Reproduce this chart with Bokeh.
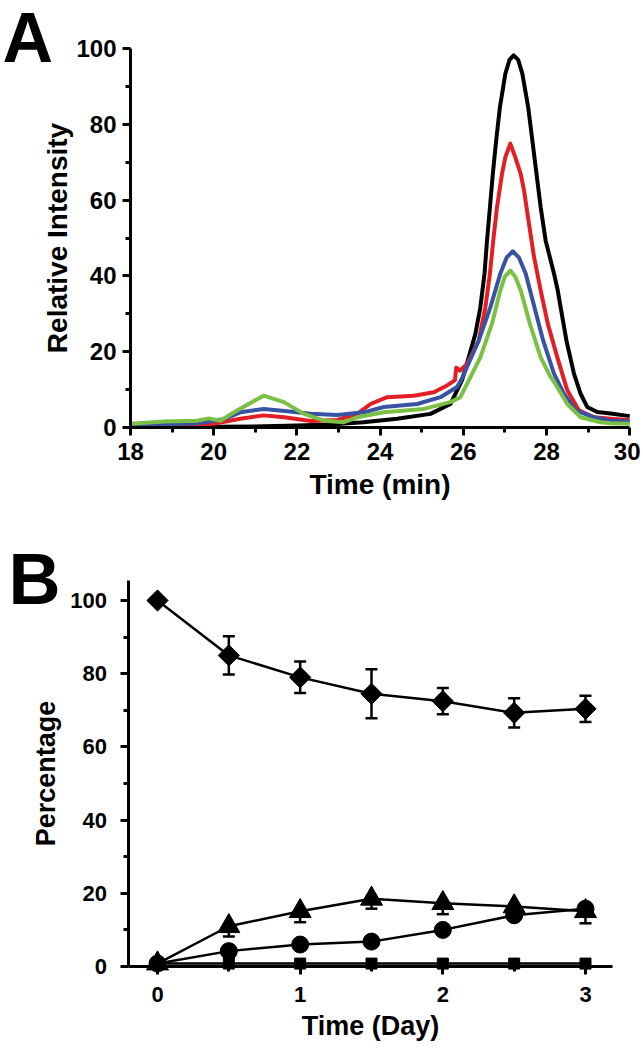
import numpy as np
from bokeh.plotting import figure
from bokeh.models import FixedTicker, Whisker, ColumnDataSource, Label, Range1d, TeeHead
from bokeh.layouts import column
from bokeh.embed import file_html
from bokeh.resources import INLINE

# ---------------- Panel A data ----------------
black_x = [18, 19, 20, 21.2, 22.0, 22.8, 23.6, 24.41, 25.21, 25.69, 25.97, 26.13, 26.29, 26.41, 26.51,
           26.57, 26.64, 26.71, 26.79, 26.88, 27.01, 27.11, 27.21, 27.32, 27.42, 27.56, 27.66, 27.76,
           27.86, 27.98, 28.18, 28.27, 28.34, 28.48, 28.66, 28.82, 28.98, 29.22, 29.54, 30]
black_y = [0.2, 0.2, 0.2, 0.3, 0.5, 0.8, 1.4, 2.3, 3.6, 6.2, 12.5, 18.5, 24.7, 31.7, 40.6,
           49.3, 58.1, 66.9, 75.7, 84.5, 93.3, 97.0, 98.2, 97.0, 93.3, 84.5, 75.7, 66.9,
           58.1, 49.3, 40.6, 36.2, 31.7, 22.9, 14.2, 8.9, 5.4, 4.1, 3.7, 3.0]

red_x = [18, 19.2, 20.0, 20.64, 21.2, 21.69, 22.33, 22.97, 23.45, 23.77, 24.17, 24.81, 25.29, 25.61,
         25.80, 25.83, 25.92, 26.09, 26.37, 26.53, 26.64, 26.72, 26.81, 26.93, 27.01, 27.13, 27.25,
         27.38, 27.46, 27.58, 27.70, 27.86, 28.03, 28.26, 28.50, 28.78, 29.14, 29.54, 30]
red_y = [0.1, 0.3, 1.0, 2.3, 3.2, 2.7, 1.7, 2.0, 3.6, 6.2, 8.0, 8.4, 9.3, 11.1,
         12.5, 15.8, 15.0, 16.8, 22.9, 31.7, 40.6, 49.3, 58.1, 66.9, 71.3, 74.9, 71.3,
         66.9, 62.5, 53.7, 45.0, 36.2, 27.4, 18.5, 9.8, 4.5, 2.7, 2.3, 1.9]

blue_x = [18, 19.6, 20.24, 20.64, 21.2, 21.77, 22.33, 22.97, 23.61, 24.09, 24.89, 25.45, 25.85, 25.97,
          26.37, 26.65, 26.89, 27.04, 27.19, 27.34, 27.50, 27.71, 27.92, 28.18, 28.42, 28.70, 29.14,
          29.54, 30]
blue_y = [0.6, 1.1, 2.2, 4.0, 4.9, 4.3, 3.6, 3.3, 4.0, 5.4, 6.2, 8.0, 10.7, 13.0,
          22.9, 31.7, 40.6, 44.8, 46.5, 44.8, 40.6, 31.7, 22.9, 14.2, 8.9, 4.5, 2.7,
          1.8, 1.6]

green_x = [18, 18.8, 19.6, 19.88, 20.16, 20.56, 21.2, 21.69, 22.17, 22.65, 23.13, 23.45, 24.09, 25.05,
           25.69, 25.93, 26.09, 26.41, 26.69, 26.89, 27.0, 27.13, 27.25, 27.38, 27.60, 27.86, 28.10,
           28.20, 28.26, 28.50, 28.82, 29.30, 29.54, 30]
green_y = [1.0, 1.6, 1.8, 2.4, 1.8, 4.5, 8.4, 6.7, 3.6, 1.8, 1.4, 2.7, 4.0, 4.9,
           6.7, 8.0, 11.5, 18.5, 27.4, 36.2, 39.8, 41.4, 39.8, 36.2, 27.4, 18.5, 13.3,
           11.8, 10.6, 6.2, 2.7, 1.4, 1.1, 1.0]

# ---------------- Panel B data ----------------
days = [0, 0.5, 1, 1.5, 2, 2.5, 3]
diamond_y = [100, 85.0, 79.0, 74.5, 72.5, 69.3, 70.4]
diamond_err = [0, 5.2, 4.3, 6.7, 3.6, 4.0, 3.6]
triangle_y = [0.8, 11.0, 15.1, 18.5, 17.3, 16.4, 15.1]
triangle_err = [0, 2.8, 3.0, 2.7, 3.0, 2.5, 3.3]
circle_y = [0.8, 4.2, 6.0, 6.8, 10.0, 14.0, 15.8]
square_y = [0.8, 0.8, 0.8, 0.8, 0.8, 0.8, 0.8]

FONT = "Liberation Sans"
W = 640


def span(v0, p0, v1, p1, size):
    """Range that maps value v0 to pixel p0 and v1 to pixel p1 over a canvas of given size."""
    k = (v1 - v0) / (p1 - p0)
    return v0 - p0 * k, v0 + (size - p0) * k


def style_axes(p, tick_size, label_size, xstand, ystand, xlab, ylab):
    for ax in list(p.xaxis) + list(p.yaxis):
        ax.axis_line_width = 3
        ax.major_tick_line_width = 3
        ax.minor_tick_line_width = 3
        ax.major_tick_out = 8
        ax.major_tick_in = 0
        ax.minor_tick_out = 5
        ax.minor_tick_in = 0
        ax.major_label_text_font = FONT
        ax.major_label_text_font_style = "bold"
        ax.major_label_text_font_size = tick_size
        ax.major_label_text_color = "black"
        ax.axis_label_text_font = FONT
        ax.axis_label_text_font_style = "bold"
        ax.axis_label_text_font_size = label_size
        ax.axis_label_text_color = "black"
    p.xaxis.major_label_standoff = xstand
    p.yaxis.major_label_standoff = ystand
    p.xaxis.axis_label_standoff = xlab
    p.yaxis.axis_label_standoff = ylab
    p.xgrid.visible = False
    p.ygrid.visible = False
    p.outline_line_color = None


# ---------------- Figure A ----------------
HA = 520
xa0, xa1 = span(18, 130, 30, 629.2, W)
ya1, ya0 = span(100, 48, 0, 427, HA)
pA = figure(width=W, height=HA, x_range=Range1d(xa0, xa1), y_range=Range1d(ya0, ya1),
            output_backend="svg", toolbar_location=None, title=None,
            min_border_left=0, min_border_right=0, min_border_top=0, min_border_bottom=0)
pA.xaxis.fixed_location = 0
pA.yaxis.fixed_location = 18
pA.xaxis.bounds = (18, 30)
pA.yaxis.bounds = (0, 100)
pA.xaxis.ticker = FixedTicker(ticks=[18, 20, 22, 24, 26, 28, 30], minor_ticks=[19, 21, 23, 25, 27, 29])
pA.yaxis.ticker = FixedTicker(ticks=[0, 20, 40, 60, 80, 100], minor_ticks=[10, 30, 50, 70, 90])
pA.xaxis.axis_label = "Time (min)"
pA.yaxis.axis_label = "Relative Intensity"
style_axes(pA, "24px", "28px", 7, 6, 6, 0)

pA.line(black_x, black_y, line_color="black", line_width=4, line_join="round")
pA.line(red_x, red_y, line_color="#e31e24", line_width=4, line_join="round")
pA.line(blue_x, blue_y, line_color="#3953a4", line_width=4, line_join="round")
pA.line(green_x, green_y, line_color="#7ac143", line_width=4, line_join="round")

pA.add_layout(Label(x=2, y=HA - 37, x_units="screen", y_units="screen", text="A",
                    text_font=FONT, text_font_style="bold", text_font_size="70px",
                    text_baseline="alphabetic", text_color="black"))

# ---------------- Figure B ----------------
HB = 528
xb0, xb1 = span(0, 157, 3, 585, W)
yb1, yb0 = span(100, 600 - HA, 0, 966 - HA, HB)
pB = figure(width=W, height=HB, x_range=Range1d(xb0, xb1), y_range=Range1d(yb0, yb1),
            output_backend="svg", toolbar_location=None, title=None,
            min_border_left=0, min_border_right=0, min_border_top=0, min_border_bottom=0)
pB.xaxis.fixed_location = 0
pB.yaxis.fixed_location = -0.2
pB.xaxis.bounds = (-0.2, 3.19)
pB.yaxis.bounds = (0, 105.5)
pB.xaxis.ticker = FixedTicker(ticks=[0, 1, 2, 3], minor_ticks=[0.5, 1.5, 2.5])
pB.yaxis.ticker = FixedTicker(ticks=[0, 20, 40, 60, 80, 100], minor_ticks=[10, 30, 50, 70, 90])
pB.xaxis.axis_label = "Time (Day)"
pB.yaxis.axis_label = "Percentage"
style_axes(pB, "22px", "27px", 12, 14, 6, 6)

src_d = ColumnDataSource(dict(x=days, y=diamond_y,
                              lo=[a - b for a, b in zip(diamond_y, diamond_err)],
                              hi=[a + b for a, b in zip(diamond_y, diamond_err)]))
# triangle error bars: only the lower half shows beneath the markers
src_t = ColumnDataSource(dict(x=days, y=triangle_y,
                              lo=[a - b for a, b in zip(triangle_y, triangle_err)],
                              hi=list(triangle_y)))

w_d = Whisker(source=src_d, base="x", lower="lo", upper="hi", dimension="height",
              line_color="black", line_width=2.5,
              upper_head=TeeHead(size=12, line_width=2.5, line_color="black"),
              lower_head=TeeHead(size=12, line_width=2.5, line_color="black"))
w_t = Whisker(source=src_t, base="x", lower="lo", upper="hi", dimension="height",
              line_color="black", line_width=2.5, upper_head=None,
              lower_head=TeeHead(size=12, line_width=2.5, line_color="black"))
pB.add_layout(w_d)
pB.add_layout(w_t)

pB.line(days, square_y, line_color="black", line_width=2.5)
pB.line(days, circle_y, line_color="black", line_width=2.5)
pB.line(days, triangle_y, line_color="black", line_width=2.5)
pB.line(days, diamond_y, line_color="black", line_width=2.5)

pB.scatter(days, square_y, marker="square", size=11, color="black")
pB.scatter(days, circle_y, marker="circle", size=17, color="black")
pB.scatter(days, triangle_y, marker="triangle", size=22, color="black")
pB.scatter(days, diamond_y, marker="square", angle=np.pi / 4, size=15, color="black")

pB.add_layout(Label(x=8, y=HB - (578 - HA), x_units="screen", y_units="screen", text="B",
                    text_font=FONT, text_font_style="bold", text_font_size="72px",
                    text_baseline="alphabetic", text_color="black"))

p = column(pA, pB)
open("out.html", "w").write(file_html(p, INLINE))
